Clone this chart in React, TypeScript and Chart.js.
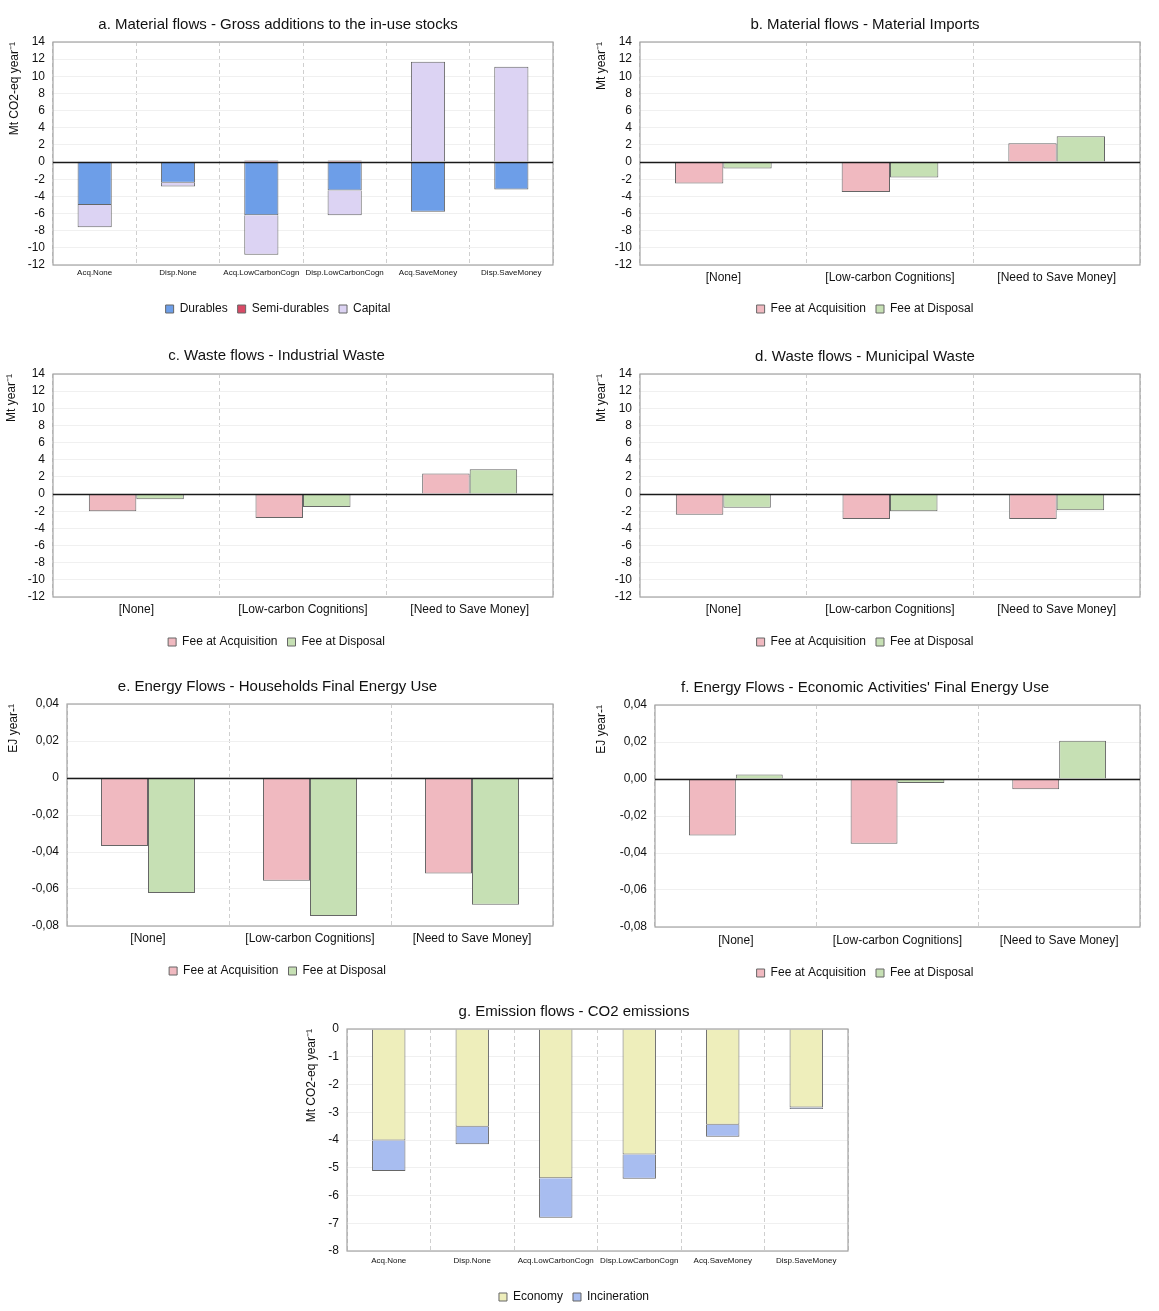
import React, { useEffect, useRef } from "react";
import { Chart, registerables } from "chart.js";

Chart.register(...registerables);
Chart.defaults.font.family = "'Liberation Sans', Arial, sans-serif";
Chart.defaults.color = "#111";

// ---------- data ----------
const stackCategories = [
  "Acq.None",
  "Disp.None",
  "Acq.LowCarbonCogn",
  "Disp.LowCarbonCogn",
  "Acq.SaveMoney",
  "Disp.SaveMoney",
];
const groupCategories = ["[None]", "[Low-carbon Cognitions]", "[Need to Save Money]"];
const feeLabels = ["Fee at Acquisition", "Fee at Disposal"];

// a. Gross additions to the in-use stocks
const aDurables = [-5.0, -2.4, -6.2, -3.3, -5.8, -3.2];
const aSemiDurables = [0.05, 0.08, 0.18, 0.18, 0, 0];
const aCapital = [-2.6, -0.45, -4.6, -2.9, 11.7, 11.1];

// b. Material imports
const bAcq = [-2.5, -3.5, 2.2];
const bDisp = [-0.75, -1.8, 3.0];

// c. Industrial waste
const cAcq = [-2.0, -2.8, 2.4];
const cDisp = [-0.6, -1.5, 2.9];

// d. Municipal waste
const dAcq = [-2.4, -2.9, -2.9];
const dDisp = [-1.6, -2.0, -1.9];

// e. Households final energy use
const eAcq = [-0.0368, -0.0556, -0.0516];
const eDisp = [-0.0622, -0.0746, -0.0685];

// f. Economic activities' final energy use
const fAcq = [-0.0305, -0.035, -0.0055];
const fDisp = [0.0025, -0.0022, 0.0207];

// g. CO2 emissions
const gEconomy = [-4.02, -3.52, -5.38, -4.52, -3.45, -2.83];
const gIncineration = [-1.1, -0.63, -1.42, -0.88, -0.43, -0.05];

// ---------- colours ----------
const C_DURABLES = "#6d9ee8";
const C_SEMI = "#d94a66";
const C_CAPITAL = "#dcd3f3";
const C_ACQ = "#f0b9c0";
const C_DISP = "#c6e0b4";
const C_ECON = "#eeeebb";
const C_INC = "#a8bdf0";
const C_BORDER = "#666666";

type Panel = {
  key: string;
  left: number;
  top: number;
  width: number;
  height: number;
  yw: number;
  padRight: number;
  titlePadTop: number;
  xh: number;
  xFont: number;
  xPad: number;
  title: string;
  yTitle: string;
  stacked: boolean;
  catPct: number;
  labels: string[];
  datasets: { label: string; data: number[]; color: string }[];
  yMin: number;
  yMax: number;
  yStep: number;
  tickFmt?: (v: number) => string;
};

const comma2 = (v: number) => (Math.abs(v) < 1e-9 ? 0 : v).toFixed(2).replace(".", ",");

const panels: Panel[] = [
  {
    key: "a", left: 3, top: 2, width: 554, height: 323, yw: 50, padRight: 4, titlePadTop: 14, xh: 28,
    xFont: 8, xPad: 3,
    title: "a. Material flows - Gross additions to the in-use stocks",
    yTitle: "Mt CO2-eq year\u207B\u00B9", stacked: true, catPct: 0.41, labels: stackCategories,
    datasets: [
      { label: "Durables", data: aDurables, color: C_DURABLES },
      { label: "Semi-durables", data: aSemiDurables, color: C_SEMI },
      { label: "Capital", data: aCapital, color: C_CAPITAL },
    ],
    yMin: -12, yMax: 14, yStep: 2,
  },
  {
    key: "b", left: 590, top: 2, width: 570, height: 323, yw: 50, padRight: 20, titlePadTop: 14, xh: 28,
    xFont: 12, xPad: 5,
    title: "b. Material flows - Material Imports",
    yTitle: "Mt year\u207B\u00B9", stacked: false, catPct: 0.58, labels: groupCategories,
    datasets: [
      { label: feeLabels[0], data: bAcq, color: C_ACQ },
      { label: feeLabels[1], data: bDisp, color: C_DISP },
    ],
    yMin: -12, yMax: 14, yStep: 2,
  },
  {
    key: "c", left: 0, top: 334, width: 598, height: 324, yw: 53, padRight: 45, titlePadTop: 13, xh: 29,
    xFont: 12, xPad: 5,
    title: "c. Waste flows - Industrial Waste",
    yTitle: "Mt year\u207B\u00B9", stacked: false, catPct: 0.57, labels: groupCategories,
    datasets: [
      { label: feeLabels[0], data: cAcq, color: C_ACQ },
      { label: feeLabels[1], data: cDisp, color: C_DISP },
    ],
    yMin: -12, yMax: 14, yStep: 2,
  },
  {
    key: "d", left: 590, top: 334, width: 580, height: 324, yw: 50, padRight: 30, titlePadTop: 14, xh: 29,
    xFont: 12, xPad: 5,
    title: "d. Waste flows - Municipal Waste",
    yTitle: "Mt year\u207B\u00B9", stacked: false, catPct: 0.57, labels: groupCategories,
    datasets: [
      { label: feeLabels[0], data: dAcq, color: C_ACQ },
      { label: feeLabels[1], data: dDisp, color: C_DISP },
    ],
    yMin: -12, yMax: 14, yStep: 2,
  },
  {
    key: "e", left: 2, top: 664, width: 606, height: 323, yw: 65, padRight: 55, titlePadTop: 14, xh: 29,
    xFont: 12, xPad: 5,
    title: "e. Energy Flows - Households Final Energy Use",
    yTitle: "EJ year-\u00B9", stacked: false, catPct: 0.58, labels: groupCategories,
    datasets: [
      { label: feeLabels[0], data: eAcq, color: C_ACQ },
      { label: feeLabels[1], data: eDisp, color: C_DISP },
    ],
    yMin: -0.08, yMax: 0.04, yStep: 0.02,
    tickFmt: (v) => (Math.abs(v) < 1e-9 ? "0" : comma2(v)),
  },
  {
    key: "f", left: 590, top: 665, width: 628, height: 324, yw: 65, padRight: 78, titlePadTop: 14, xh: 30,
    xFont: 12, xPad: 6,
    title: "f. Energy Flows - Economic Activities' Final Energy Use",
    yTitle: "EJ year-\u00B9", stacked: false, catPct: 0.58, labels: groupCategories,
    datasets: [
      { label: feeLabels[0], data: fAcq, color: C_ACQ },
      { label: feeLabels[1], data: fDisp, color: C_DISP },
    ],
    yMin: -0.08, yMax: 0.04, yStep: 0.02,
    tickFmt: comma2,
  },
  {
    key: "g", left: 300, top: 989, width: 588, height: 324, yw: 47, padRight: 40, titlePadTop: 14, xh: 30,
    xFont: 8, xPad: 5,
    title: "g. Emission flows - CO2 emissions",
    yTitle: "Mt CO2-eq year\u207B\u00B9", stacked: true, catPct: 0.4, labels: stackCategories,
    datasets: [
      { label: "Economy", data: gEconomy, color: C_ECON },
      { label: "Incineration", data: gIncineration, color: C_INC },
    ],
    yMin: -8, yMax: 0, yStep: 1,
  },
];

const framePlugin = {
  id: "frameAndZero",
  afterDatasetsDraw(chart: any) {
    const { ctx, chartArea } = chart;
    const { left, right, top, bottom } = chartArea;
    const y = chart.scales.y;
    ctx.save();
    ctx.strokeStyle = "#a3a3a3";
    ctx.lineWidth = 1.2;
    ctx.strokeRect(left, top, right - left, bottom - top);
    if (y.min < 0 && y.max > 0) {
      const py = Math.round(y.getPixelForValue(0)) + 0.5;
      ctx.strokeStyle = "#1a1a1a";
      ctx.lineWidth = 1.5;
      ctx.beginPath();
      ctx.moveTo(left, py);
      ctx.lineTo(right, py);
      ctx.stroke();
    }
    ctx.restore();
  },
};

function ChartPanel({ p }: { p: Panel }) {
  const ref = useRef<HTMLCanvasElement>(null);
  useEffect(() => {
    if (!ref.current) return;
    const titleSize = 15;
    const titleLH = titleSize * 1.2;
    const chart = new Chart(ref.current, {
      type: "bar",
      data: {
        labels: p.labels,
        datasets: p.datasets.map((d) => ({
          label: d.label,
          data: d.data,
          backgroundColor: d.color,
          borderColor: C_BORDER,
          borderWidth: 1,
          barPercentage: 1,
          categoryPercentage: p.catPct,
        })),
      },
      options: {
        responsive: false,
        animation: false,
        layout: { padding: { left: 0, right: p.padRight, top: 0, bottom: 0 } },
        plugins: {
          title: {
            display: true,
            text: p.title,
            color: "#111",
            font: { size: titleSize, weight: "normal" as any },
            padding: { top: p.titlePadTop, bottom: 40 - titleLH - p.titlePadTop },
          },
          legend: {
            position: "bottom",
            labels: {
              boxWidth: 8,
              boxHeight: 8,
              padding: 10,
              color: "#111",
              font: { size: 12 },
            },
          },
          tooltip: { enabled: false },
        },
        scales: {
          x: {
            stacked: p.stacked,
            offset: true,
            grid: { offset: true, color: "#cfcfcf", lineWidth: 1, drawTicks: false },
            border: { display: false, dash: [4, 3] },
            ticks: {
              autoSkip: false,
              maxRotation: 0,
              minRotation: 0,
              padding: p.xPad,
              color: "#111",
              font: { size: p.xFont },
            },
            afterFit: (scale: any) => {
              scale.height = p.xh;
            },
          },
          y: {
            stacked: p.stacked,
            min: p.yMin,
            max: p.yMax,
            grid: { color: "#f0f0f0", lineWidth: 1, drawTicks: false },
            border: { display: false },
            ticks: {
              stepSize: p.yStep,
              autoSkip: false,
              padding: 8,
              color: "#111",
              font: { size: 12 },
              callback: (v: any) => (p.tickFmt ? p.tickFmt(Number(v)) : String(Math.round(Number(v)))),
            },
            title: {
              display: true,
              text: p.yTitle,
              align: "end",
              color: "#111",
              font: { size: 12 },
              padding: { top: 4, bottom: 4 },
            },
            afterFit: (scale: any) => {
              scale.width = p.yw;
            },
          },
        },
      },
      plugins: [framePlugin],
    } as any);
    return () => chart.destroy();
  }, []);
  return (
    <canvas
      ref={ref}
      width={p.width}
      height={p.height}
      style={{ position: "absolute", left: p.left, top: p.top, width: p.width, height: p.height }}
    />
  );
}

export default function App() {
  useEffect(() => {
    document.body.style.margin = "0";
  }, []);
  return (
    <div
      style={{
        position: "relative",
        width: 1159,
        height: 1311,
        overflow: "hidden",
        background: "#fff",
      }}
    >
      {panels.map((p) => (
        <ChartPanel key={p.key} p={p} />
      ))}
    </div>
  );
}
